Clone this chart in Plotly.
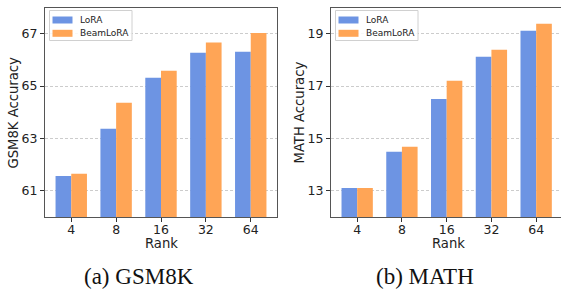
import plotly.graph_objects as go

ranks = ["4", "8", "16", "32", "64"]
gsm8k_lora = [61.57, 63.37, 65.32, 66.27, 66.31]
gsm8k_beam = [61.65, 64.36, 65.58, 66.66, 67.03]
math_lora = [13.11, 14.49, 16.51, 18.12, 19.11]
math_beam = [13.11, 14.68, 17.20, 18.39, 19.38]
gsm8k_ticks = [61, 63, 65, 67]
math_ticks = [13, 15, 17, 19]
series_names = ["LoRA", "BeamLoRA"]

BLUE = "#6D94E3"
ORANGE = "#FFA556"
W, H = 561, 291

fig = go.Figure()
fig.add_trace(go.Bar(x=ranks, y=gsm8k_lora, name=series_names[0], marker_color=BLUE,
                     marker_line_width=0, xaxis="x", yaxis="y", showlegend=False))
fig.add_trace(go.Bar(x=ranks, y=gsm8k_beam, name=series_names[1], marker_color=ORANGE,
                     marker_line_width=0, xaxis="x", yaxis="y", showlegend=False))
fig.add_trace(go.Bar(x=ranks, y=math_lora, name=series_names[0], marker_color=BLUE,
                     marker_line_width=0, xaxis="x2", yaxis="y2", showlegend=False))
fig.add_trace(go.Bar(x=ranks, y=math_beam, name=series_names[1], marker_color=ORANGE,
                     marker_line_width=0, xaxis="x2", yaxis="y2", showlegend=False))

left_px = [45, 277]
right_px = [331, 561]
left_dom = [left_px[0] / W, left_px[1] / W]
right_dom = [right_px[0] / W, 1.0]
y_dom = [1 - 217 / H, 1 - 7.5 / H]

axis_common = dict(showline=True, linecolor="#555555", linewidth=1.3,
                   ticks="outside", ticklen=4, tickwidth=1, tickcolor="#333333",
                   tickfont=dict(family="DejaVu Sans", size=12.5, color="#222222"))
grid_common = dict(showgrid=True, gridcolor="#cccccc", gridwidth=1,
                   griddash="3px,2px", zeroline=False)

fig.update_layout(
    width=W, height=H,
    margin=dict(l=0, r=0, t=0, b=0),
    paper_bgcolor="white", plot_bgcolor="white",
    barmode="group", bargap=0.3, bargroupgap=0,
    xaxis=dict(domain=left_dom, anchor="y", type="category", range=[-0.585, 4.585],
               mirror=True, showgrid=False, ticklabelstandoff=-3, **axis_common),
    yaxis=dict(domain=y_dom, anchor="x", range=[60, 68], tickvals=gsm8k_ticks,
               mirror=True, **grid_common, **axis_common),
    xaxis2=dict(domain=right_dom, anchor="y2", type="category", range=[-0.585, 4.555],
                mirror=True, showgrid=False, ticklabelstandoff=-3, **axis_common),
    yaxis2=dict(domain=y_dom, anchor="x2", range=[12, 20], tickvals=math_ticks,
                mirror=False, **grid_common, **axis_common),
    showlegend=False,
)

# Manual legends (matplotlib-style) in each panel
def px_x(v):
    return v / W

def px_y(v):
    return 1 - v / H

leg_font = dict(family="DejaVu Sans", size=9, color="#222222")
for ax_left in (left_px[0], right_px[0]):
    bx0, bx1 = ax_left + 4.5, ax_left + 87
    by0, by1 = 10.5, 40.5
    fig.add_shape(type="rect", xref="paper", yref="paper",
                  x0=px_x(bx0), x1=px_x(bx1), y0=px_y(by1), y1=px_y(by0),
                  line=dict(color="#d0d0d0", width=1), fillcolor="rgba(255,255,255,0.85)",
                  layer="above")
    for i, (nm, col) in enumerate(zip(series_names, [BLUE, ORANGE])):
        cy = 20 + i * 13.3
        fig.add_shape(type="rect", xref="paper", yref="paper",
                      x0=px_x(ax_left + 7.5), x1=px_x(ax_left + 27.5),
                      y0=px_y(cy + 3.5), y1=px_y(cy - 3.5),
                      line=dict(width=0), fillcolor=col, layer="above")
        fig.add_annotation(text=nm, x=px_x(ax_left + 32.5), y=px_y(cy), xref="paper", yref="paper",
                           showarrow=False, font=leg_font, xanchor="left", yanchor="middle")

ann_font = dict(family="DejaVu Sans", size=13.2, color="#222222")
cap_font = dict(family="Liberation Serif", size=23, color="#111111")
fig.add_annotation(text="GSM8K Accuracy", x=px_x(13.5), y=px_y(113), xref="paper", yref="paper",
                   textangle=-90, showarrow=False, font=ann_font, xanchor="center", yanchor="middle")
fig.add_annotation(text="MATH Accuracy", x=px_x(299.5), y=px_y(113), xref="paper", yref="paper",
                   textangle=-90, showarrow=False, font=ann_font, xanchor="center", yanchor="middle")
fig.add_annotation(text="Rank", x=px_x(161), y=px_y(243.5), xref="paper", yref="paper",
                   showarrow=False, font=ann_font, xanchor="center", yanchor="middle")
fig.add_annotation(text="Rank", x=px_x(448.5), y=px_y(243.5), xref="paper", yref="paper",
                   showarrow=False, font=ann_font, xanchor="center", yanchor="middle")
fig.add_annotation(text="(a) GSM8K", x=px_x(139), y=px_y(276), xref="paper", yref="paper",
                   showarrow=False, font=cap_font, xanchor="center", yanchor="middle")
fig.add_annotation(text="(b) MATH", x=px_x(425), y=px_y(276), xref="paper", yref="paper",
                   showarrow=False, font=cap_font, xanchor="center", yanchor="middle")

fig.write_html("out.html", config={"displayModeBar": False},
               post_script="document.body.style.margin='0';document.body.style.overflow='hidden';")
